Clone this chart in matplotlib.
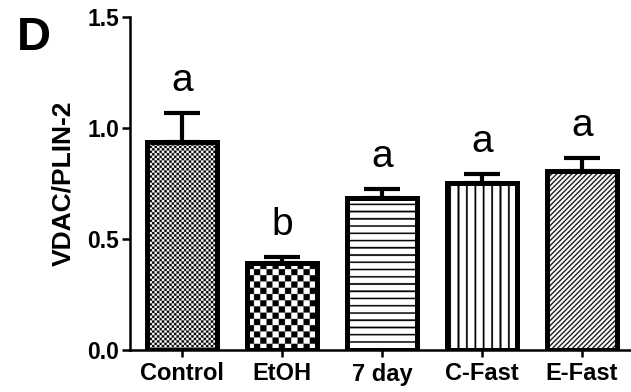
import numpy as np
import matplotlib
matplotlib.use("Agg")
import matplotlib.pyplot as plt

# values
groups = ["Control", "EtOH", "7 day", "C-Fast", "E-Fast"]
means = [0.937, 0.39, 0.685, 0.752, 0.806]
sems = [0.13, 0.03, 0.04, 0.04, 0.06]
letters = ["a", "b", "a", "a", "a"]
yticks = [0.0, 0.5, 1.0, 1.5]

plt.rcParams['font.family'] = ['Liberation Sans', 'DejaVu Sans']

fig = plt.figure(figsize=(6.31, 3.92), dpi=100)
ax = fig.add_axes([130/631, 42/392, 501/631, 333/392])
ax.set_xlim(-0.52, 4.49)
ax.set_ylim(0, 1.5)

x = np.arange(len(groups))
bars = ax.bar(x, means, width=0.7, facecolor='none', edgecolor='black',
              linewidth=3.6, zorder=3)

ax.errorbar(x, means, yerr=[np.zeros(len(means)), sems], fmt='none',
            ecolor='black', elinewidth=3, capsize=13, capthick=3, zorder=4)

for i in range(len(groups)):
    ax.text(x[i], means[i] + sems[i] + 0.1, letters[i], ha='center', va='baseline',
            fontsize=28, zorder=5)


# fill patterns (pixel units), 1 = white, 0 = black
def checker(c):
    return lambda px, py: ((px // c) + (py // c)) % 2

def hlines(s, t):
    return lambda px, py: ((py % s) >= t).astype(float)

def vlines(s, t):
    return lambda px, py: ((px % s) >= t).astype(float)

def diag(s, t):
    return lambda px, py: (((px - py) % s) >= t).astype(float)

patterns = [checker(2.45), checker(6.2), hlines(7.2, 1.6), vlines(8.4, 1.8), diag(5.0, 1.7)]

bb = ax.get_window_extent()
ss = 4
nx = int(round(bb.width))
ny = int(round(bb.height))
px = (np.arange(nx * ss) + 0.5) / ss
py = (np.arange(ny * ss) + 0.5) / ss
PX, PY = np.meshgrid(px, py)
x0, x1 = ax.get_xlim()
y0, y1 = ax.get_ylim()
for bar, pat in zip(bars, patterns):
    arr = pat(PX, PY)
    im = ax.imshow(arr, cmap='gray', vmin=0, vmax=1, extent=(x0, x1, y0, y1),
                   origin='lower', aspect='auto', zorder=2)
    im.set_clip_path(bar)

ax.set_xlim(x0, x1)
ax.set_ylim(y0, y1)

ax.spines['top'].set_visible(False)
ax.spines['right'].set_visible(False)
for s in ['left', 'bottom']:
    ax.spines[s].set_linewidth(1.8)

ax.set_yticks(yticks)
ax.set_yticklabels(["%.1f" % v for v in yticks], fontsize=16.5, fontweight='bold')
ax.set_xticks(x)
ax.set_xticklabels(groups, fontsize=17, fontweight='bold')
ax.tick_params(axis='y', length=6, width=1.8, pad=2)
ax.tick_params(axis='x', length=5, width=1.8, pad=4)

ax.set_ylabel("VDAC/PLIN-2", fontsize=19, fontweight='bold')
ax.yaxis.set_label_coords(-0.11, 0.5)

fig.text(0.027, 0.872, "D", fontsize=34, fontweight='bold', va='baseline')

fig.savefig("out.png", dpi=100, facecolor='white')
